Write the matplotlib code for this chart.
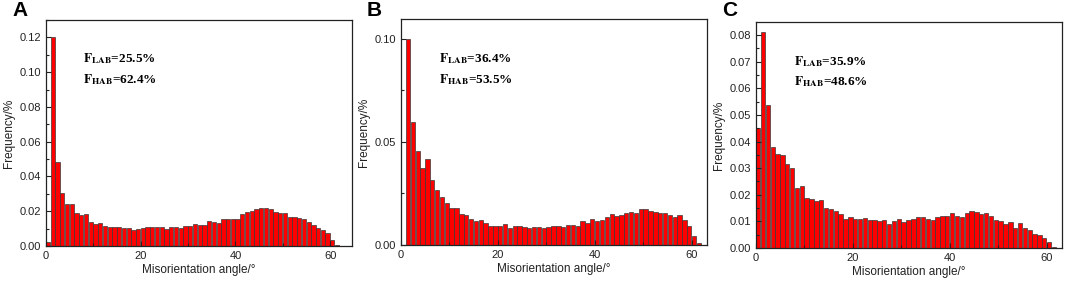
import numpy as np
import matplotlib
matplotlib.use('Agg')
import matplotlib.pyplot as plt
from matplotlib.ticker import MultipleLocator

plt.rcParams['font.family'] = ['Liberation Sans', 'DejaVu Sans']
plt.rcParams['mathtext.fontset'] = 'stix'

# Частоты по бинам 1° (левая граница бина = индекс)
freq_a = [0.0023, 0.120, 0.0486, 0.0307, 0.0244, 0.0242, 0.0192, 0.0180, 0.0184, 0.0140,
          0.0129, 0.0134, 0.0117, 0.0107, 0.0111, 0.0111, 0.0104, 0.0104, 0.0090, 0.0100,
          0.0102, 0.0107, 0.0111, 0.0109, 0.0109, 0.0098, 0.0109, 0.0107, 0.0106, 0.0113,
          0.0113, 0.0125, 0.0121, 0.0123, 0.0146, 0.0140, 0.0134, 0.0154, 0.0157, 0.0155,
          0.0155, 0.0186, 0.0196, 0.0203, 0.0211, 0.0221, 0.0217, 0.0211, 0.0194, 0.0192,
          0.0192, 0.0169, 0.0169, 0.0161, 0.0154, 0.0138, 0.0123, 0.0106, 0.0090, 0.0073,
          0.0036, 0.0008, 0.0002]
freq_b = [0.0, 0.100, 0.0595, 0.0454, 0.0374, 0.0417, 0.0314, 0.0269, 0.0235, 0.0203,
          0.0182, 0.0180, 0.0149, 0.0147, 0.0128, 0.0118, 0.0122, 0.0105, 0.0094, 0.0092,
          0.0092, 0.0102, 0.0081, 0.0094, 0.0094, 0.0086, 0.0083, 0.0088, 0.0088, 0.0081,
          0.0089, 0.0092, 0.0091, 0.0089, 0.0097, 0.0097, 0.0092, 0.0115, 0.0105, 0.0125,
          0.0117, 0.0123, 0.0135, 0.0149, 0.0141, 0.0146, 0.0157, 0.0159, 0.0156, 0.0173,
          0.0177, 0.0165, 0.0159, 0.0157, 0.0156, 0.0144, 0.0138, 0.0144, 0.0122, 0.0092,
          0.0042, 0.0011]
freq_c = [0.0450, 0.0812, 0.0538, 0.0378, 0.0354, 0.0351, 0.0314, 0.0301, 0.0226, 0.0233,
          0.0188, 0.0185, 0.0176, 0.0180, 0.0151, 0.0146, 0.0138, 0.0129, 0.0109, 0.0116,
          0.0108, 0.0108, 0.0113, 0.0106, 0.0104, 0.0101, 0.0105, 0.0091, 0.0103, 0.0109,
          0.0096, 0.0105, 0.0109, 0.0116, 0.0115, 0.0110, 0.0105, 0.0115, 0.0119, 0.0120,
          0.0130, 0.0121, 0.0118, 0.0133, 0.0139, 0.0134, 0.0126, 0.0130, 0.0120, 0.0104,
          0.0101, 0.0091, 0.0098, 0.0076, 0.0095, 0.0074, 0.0066, 0.0054, 0.0049, 0.0036,
          0.0022, 0.0004]

panels = ['A', 'B', 'C']
f_lab = ['25.5', '36.4', '35.9']
f_hab = ['62.4', '53.5', '48.6']

# Настройки осей для каждой панели: позиция, пределы, шаг тиков
setup = [
    dict(data=freq_a, rect=(46, 20, 352, 246), xmax=64.6, ymax=0.130, major=0.02, minor=0.01,
         txt_y=(0.108, 0.0955)),
    dict(data=freq_b, rect=(401, 19, 707, 245), xmax=63.1, ymax=0.1097, major=0.05, minor=0.025,
         txt_y=(0.0907, 0.0802)),
    dict(data=freq_c, rect=(756, 22, 1062, 248), xmax=63.1, ymax=0.0849, major=0.01, minor=0.005,
         txt_y=(0.070, 0.0625)),
]

W, H = 1065, 282
fig = plt.figure(figsize=(W / 100, H / 100), dpi=100)

for i, s in enumerate(setup):
    l, t, r, b = s['rect']
    ax = fig.add_axes([l / W, 1 - b / H, (r - l) / W, (b - t) / H])
    vals = np.array(s['data'])
    x = np.arange(len(vals))
    ax.bar(x, vals, width=0.9, align='edge', color='#ff0000', edgecolor='#3a3a3a', linewidth=0.5)

    ax.set_xlim(0, s['xmax'])
    ax.set_ylim(0, s['ymax'])
    ax.xaxis.set_major_locator(MultipleLocator(20))
    ax.xaxis.set_minor_locator(MultipleLocator(10))
    ax.yaxis.set_major_locator(MultipleLocator(s['major']))
    ax.yaxis.set_minor_locator(MultipleLocator(s['minor']))
    ax.yaxis.set_major_formatter(matplotlib.ticker.FormatStrFormatter('%.2f'))
    ax.tick_params(which='both', direction='in', labelsize=8, width=0.8, colors='#222222')
    ax.tick_params(which='major', length=3.5)
    ax.tick_params(which='minor', length=2)
    for sp in ax.spines.values():
        sp.set_linewidth(0.9)
        sp.set_color('#222222')

    ax.set_xlabel('Misorientation angle/°', fontsize=8.5, labelpad=2, color='#222222')
    ax.set_ylabel('Frequency/%', fontsize=8.5, labelpad=3, color='#222222')

    ax.text(7.8, s['txt_y'][0], r'$\mathbf{F_{LAB}}$' + '=' + f_lab[i] + '%',
            fontsize=9.5, family='Liberation Serif', fontweight='bold', va='center')
    ax.text(7.8, s['txt_y'][1], r'$\mathbf{F_{HAB}}$' + '=' + f_hab[i] + '%',
            fontsize=9.5, family='Liberation Serif', fontweight='bold', va='center')

    fig.text((l - 34) / W, 1 - 11 / H, panels[i], fontsize=15, fontweight='bold',
             ha='left', va='center')

fig.savefig('out.png', dpi=100)
